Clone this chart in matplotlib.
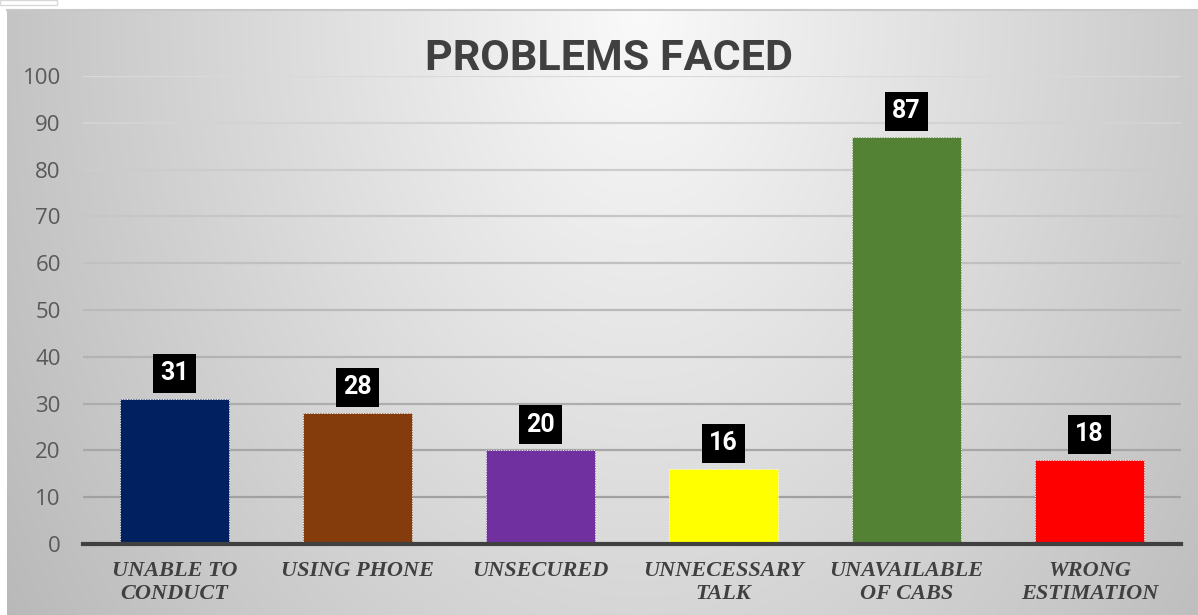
import numpy as np
import matplotlib.pyplot as plt
from matplotlib.patches import Rectangle

categories = ["UNABLE TO\nCONDUCT", "USING PHONE", "UNSECURED",
              "UNNECESSARY\nTALK", "UNAVAILABLE\nOF CABS", "WRONG\nESTIMATION"]
values = [31, 28, 20, 16, 87, 18]
colors = ["#002060", "#843C0C", "#7030A0", "#FFFF00", "#548235", "#FF0000"]
yticks = list(range(0, 101, 10))

W, H = 1198, 615
fig = plt.figure(figsize=(W / 100, H / 100), dpi=100)
fig.patch.set_facecolor("white")

# gradient background panel
bg = fig.add_axes([7 / W, 0, 1 - 7 / W, (H - 10) / H])
xx, yy = np.meshgrid(np.linspace(7, W, 400), np.linspace(10, H, 200))
d = np.sqrt(((xx - 640) / 600) ** 2 + ((yy - 10) / 860) ** 2)
shade = np.clip(0.98 - 0.2 * d, 0, 1)
bg.imshow(np.dstack([shade] * 3), aspect="auto", extent=[0, 1, 0, 1], origin="upper")
bg.axis("off")
fig.add_artist(plt.Line2D([7 / W, 1], [1 - 10 / H] * 2, color="#C8C8C8", lw=1.5))
fig.add_artist(Rectangle((0, 1 - 5 / H), 57 / W, 5 / H, fill=False, ec="#D8D8D8", lw=1))

ax = fig.add_axes([83 / W, 1 - 544 / H, (1181 - 83) / W, (544 - 76) / H])
ax.set_facecolor("none")
x = np.arange(len(values))

for t in yticks[1:]:
    g = 0.63 + 0.22 * (t - 10) / 90
    ax.axhline(t, color=(g, g, g), lw=1.6, zorder=1)

bars = ax.bar(x, values, width=0.6, color=colors, edgecolor="white",
              linewidth=0.7, linestyle=":", zorder=2)

for xi, v in zip(x, values):
    ax.annotate(str(v), (xi, v), xytext=(0, 18.5), textcoords="offset points",
                ha="center", va="center", color="white", fontsize=18,
                fontweight="bold", family="Roboto",
                bbox=dict(boxstyle="square,pad=0.3", fc="black", ec="none"))

ax.set_xlim(-0.5, 5.5)
ax.set_ylim(0, 100)
ax.set_yticks(yticks)
ax.set_xticks(x)
ax.set_xticklabels(categories, family="Liberation Serif", style="italic",
                   fontweight="bold", fontsize=16, color="#404040", linespacing=1.25)
for lab in ax.get_yticklabels():
    lab.set_family("Open Sans")
    lab.set_fontsize(16)
    lab.set_color("#595959")
ax.tick_params(axis="both", length=0)
ax.tick_params(axis="y", pad=16)
ax.tick_params(axis="x", pad=12)
for s in ["top", "right", "left"]:
    ax.spines[s].set_visible(False)
ax.spines["bottom"].set_color("#404040")
ax.spines["bottom"].set_linewidth(3)
ax.spines["bottom"].set_zorder(3)

fig.text(609 / W, 1 - 58 / H, "PROBLEMS FACED", ha="center", va="center",
         fontsize=31, fontweight="bold", family="Roboto", color="#404040")

fig.savefig("out.png", dpi=100)
